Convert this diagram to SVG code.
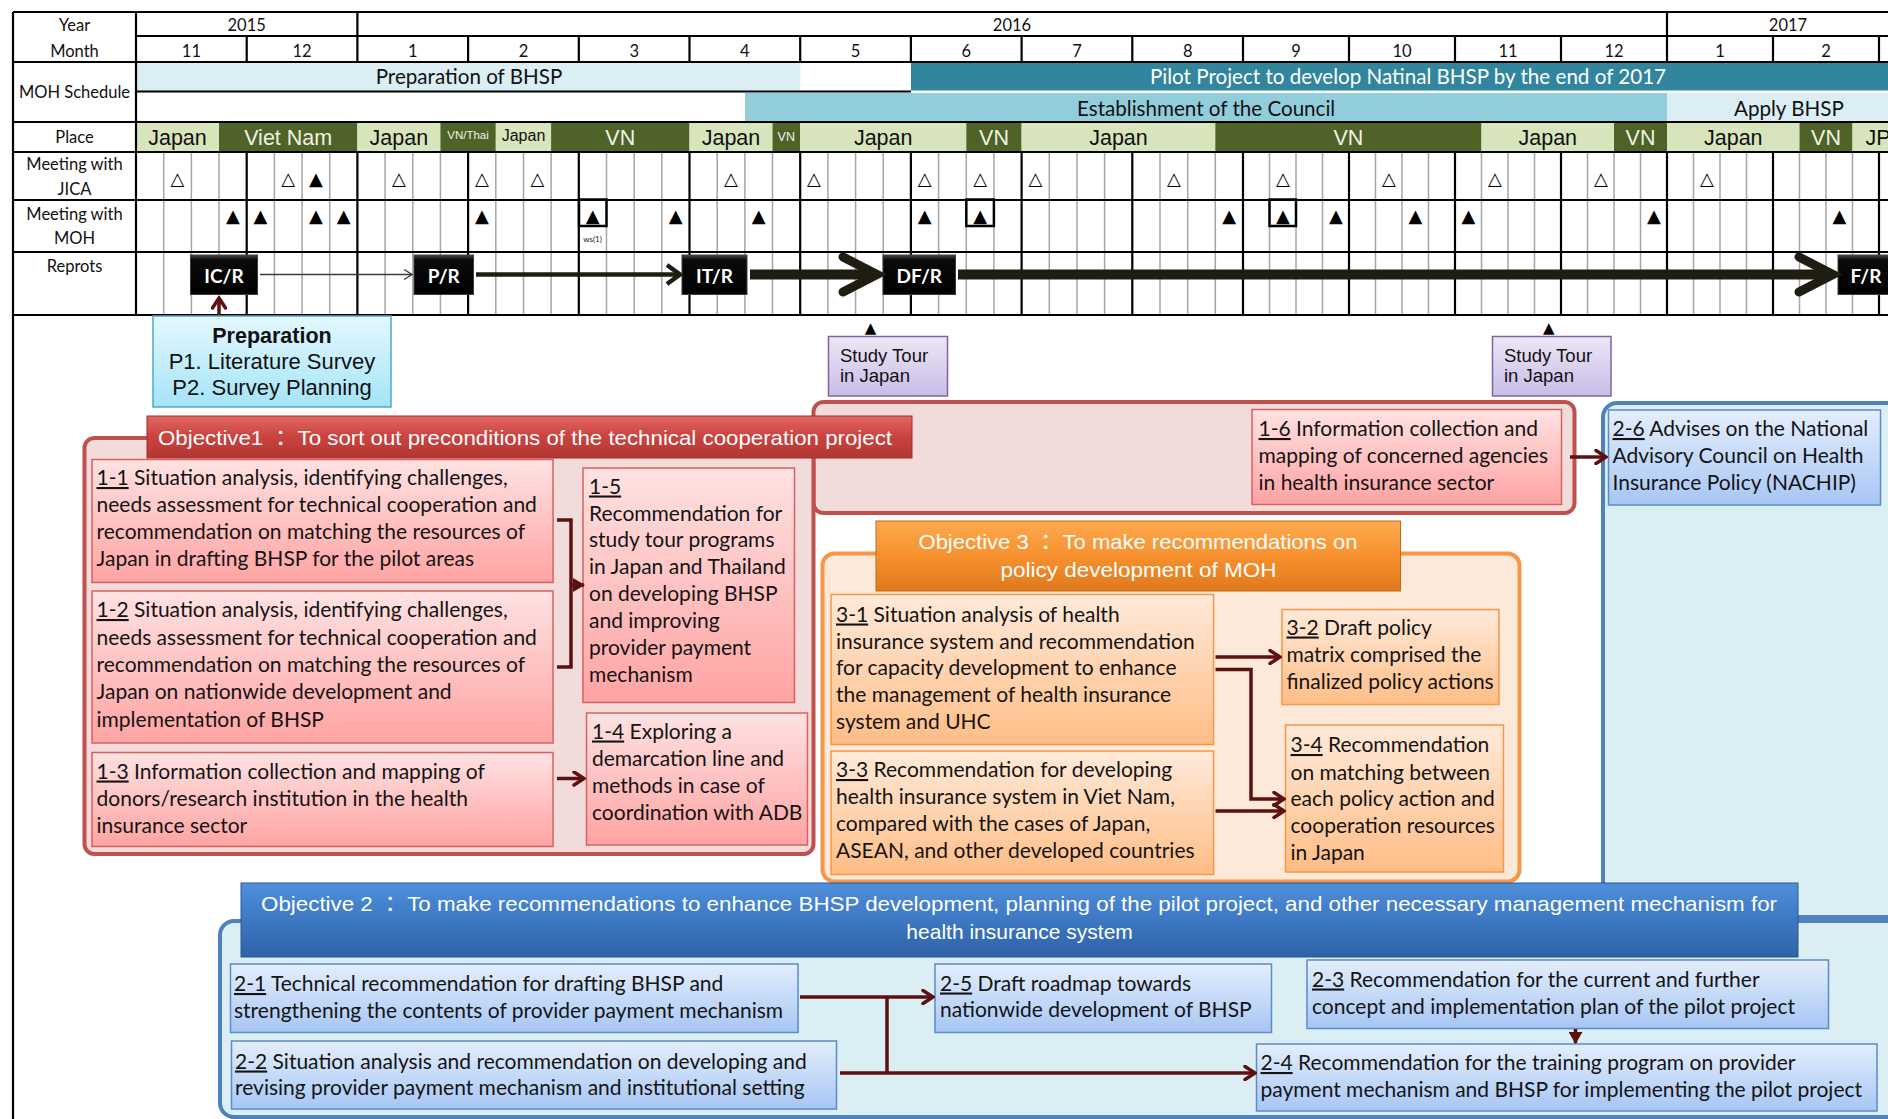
<svg xmlns="http://www.w3.org/2000/svg" width="1888" height="1119" viewBox="0 0 1888 1119">
<defs>
  <linearGradient id="gRed" x1="0" y1="0" x2="0" y2="1"><stop offset="0" stop-color="#FFE2E2"/><stop offset="1" stop-color="#FFA3A3"/></linearGradient>
  <linearGradient id="gOrg" x1="0" y1="0" x2="0" y2="1"><stop offset="0" stop-color="#FFEADA"/><stop offset="1" stop-color="#FFBD86"/></linearGradient>
  <linearGradient id="gBlu" x1="0" y1="0" x2="0" y2="1"><stop offset="0" stop-color="#E4EEFC"/><stop offset="1" stop-color="#A7C6F4"/></linearGradient>
  <linearGradient id="gPrep" x1="0" y1="0" x2="0" y2="1"><stop offset="0" stop-color="#E4F8FE"/><stop offset="1" stop-color="#A4E4F8"/></linearGradient>
  <linearGradient id="gStudy" x1="0" y1="0" x2="0" y2="1"><stop offset="0" stop-color="#ECE7F6"/><stop offset="1" stop-color="#C9BCE6"/></linearGradient>
  <linearGradient id="gHR" x1="0" y1="0" x2="0" y2="1"><stop offset="0" stop-color="#E26763"/><stop offset="0.45" stop-color="#CC4542"/><stop offset="1" stop-color="#B23532"/></linearGradient>
  <linearGradient id="gHO" x1="0" y1="0" x2="0" y2="1"><stop offset="0" stop-color="#FDAA4E"/><stop offset="0.5" stop-color="#F7912F"/><stop offset="1" stop-color="#E0781C"/></linearGradient>
  <linearGradient id="gHB" x1="0" y1="0" x2="0" y2="1"><stop offset="0" stop-color="#4F8FDA"/><stop offset="0.5" stop-color="#3D78C3"/><stop offset="1" stop-color="#2E62A6"/></linearGradient>
  <linearGradient id="gRep" x1="0" y1="0" x2="0" y2="1"><stop offset="0" stop-color="#4A4A4A"/><stop offset="0.12" stop-color="#0A0A0A"/><stop offset="1" stop-color="#000"/></linearGradient>
  <marker id="chev" viewBox="0 0 14 16" refX="12" refY="8" markerWidth="14" markerHeight="16" markerUnits="userSpaceOnUse" orient="auto">
    <path d="M2,1.5 L12,8 L2,14.5" fill="none" stroke="#5C1010" stroke-width="3.5" stroke-linecap="round"/>
  </marker>
  <marker id="tri" viewBox="0 0 12 14" refX="11" refY="7" markerWidth="12" markerHeight="14" markerUnits="userSpaceOnUse" orient="auto">
    <path d="M0,0 L12,7 L0,14 z" fill="#5C1010"/>
  </marker>
  <marker id="thin" viewBox="0 0 10 12" refX="9" refY="6" markerWidth="10" markerHeight="12" markerUnits="userSpaceOnUse" orient="auto">
    <path d="M1,1 L9,6 L1,11" fill="none" stroke="#3A3A3A" stroke-width="1.3"/>
  </marker>
</defs>
<style>
  .lab{font-family:Lato,sans-serif;font-size:16.5px;fill:#111;text-anchor:middle}
  .num{font-family:Lato,sans-serif;font-size:16.5px;fill:#111;text-anchor:middle}
  .bar{font-family:Lato,sans-serif;font-size:20.6px;fill:#111}
  .pl{font-family:"Liberation Sans",Arial,sans-serif;font-size:21.5px;text-anchor:middle}
  .dk{fill:#111}
  .lt{fill:#EEF3E4}
  .wk{stroke:#A6A6A6;stroke-width:1.5;fill:none}
  .bl{stroke:#000;stroke-width:2.2;fill:none}
  .tri{font-family:"DejaVu Sans",sans-serif;font-size:18px;text-anchor:middle;fill:#000}
  .rep rect{fill:url(#gRep);stroke:#3C3C3C;stroke-width:1}
  .rep text{font-family:Lato,sans-serif;font-weight:bold;font-size:19px;fill:#fff;text-anchor:middle}
  .bt{font-family:Lato,sans-serif;font-size:21px;fill:#141414}
  .u{text-decoration:underline}
  .hd{font-family:"Liberation Sans","Noto Sans CJK JP",sans-serif;font-size:21px;fill:#fff}
  .arial{font-family:"Liberation Sans",Arial,sans-serif;fill:#111}
  .rbox{fill:url(#gRed);stroke:#D9605C;stroke-width:1.5}
  .obox{fill:url(#gOrg);stroke:#F79646;stroke-width:1.5}
  .bbox{fill:url(#gBlu);stroke:#5B8BCB;stroke-width:1.5}
  .ar{fill:none;stroke:#5C1010;stroke-width:3.5}
</style>

<!-- timeline table -->
<g id="timeline-table">
  <!-- MOH schedule bars -->
  <rect x="136" y="63" width="664.2" height="28" fill="#DAEEF3"/>
  <rect x="911" y="63" width="977" height="27.5" fill="#31859C"/>
  <rect x="745" y="93" width="922" height="28" fill="#92CDDC"/>
  <rect x="1667" y="93" width="221" height="28" fill="#DAEEF3"/>
  <text class="bar" x="469" y="84" text-anchor="middle">Preparation of BHSP</text>
  <text class="bar" x="1150" y="84" style="fill:#fff">Pilot Project to develop Natinal BHSP by the end of 2017</text>
  <text class="bar" x="1077" y="116">Establishment of the Council</text>
  <text class="bar" x="1734" y="116">Apply BHSP</text>

  <!-- place bars -->
  <rect x="136" y="123" width="83" height="28.5" fill="#D7E4BC"/>
  <rect x="219" y="123" width="138.4" height="28.5" fill="#4F6228"/>
  <rect x="357.4" y="123" width="83" height="28.5" fill="#D7E4BC"/>
  <rect x="440.4" y="123" width="55.4" height="28.5" fill="#4F6228"/>
  <rect x="495.8" y="123" width="55.3" height="28.5" fill="#D7E4BC"/>
  <rect x="551.1" y="123" width="138.4" height="28.5" fill="#4F6228"/>
  <rect x="689.5" y="123" width="83" height="28.5" fill="#D7E4BC"/>
  <rect x="772.5" y="123" width="27.7" height="28.5" fill="#4F6228"/>
  <rect x="800.2" y="123" width="166.1" height="28.5" fill="#D7E4BC"/>
  <rect x="966.3" y="123" width="55.3" height="28.5" fill="#4F6228"/>
  <rect x="1021.6" y="123" width="193.7" height="28.5" fill="#D7E4BC"/>
  <rect x="1215.3" y="123" width="266.2" height="28.5" fill="#4F6228"/>
  <rect x="1481.5" y="123" width="132.5" height="28.5" fill="#D7E4BC"/>
  <rect x="1614" y="123" width="53" height="28.5" fill="#4F6228"/>
  <rect x="1667" y="123" width="132.5" height="28.5" fill="#D7E4BC"/>
  <rect x="1799.5" y="123" width="53" height="28.5" fill="#4F6228"/>
  <rect x="1852.5" y="123" width="36" height="28.5" fill="#D7E4BC"/>
  <text class="pl dk" x="177.5" y="144.5">Japan</text>
  <text class="pl lt" x="288.2" y="144.5">Viet Nam</text>
  <text class="pl dk" x="398.9" y="144.5">Japan</text>
  <text class="pl lt" x="468" y="138.5" style="font-size:11.5px">VN/Thai</text>
  <text class="pl dk" x="523.5" y="141" style="font-size:16px">Japan</text>
  <text class="pl lt" x="620.3" y="144.5">VN</text>
  <text class="pl dk" x="731" y="144.5">Japan</text>
  <text class="pl lt" x="786.3" y="140.5" style="font-size:12.5px">VN</text>
  <text class="pl dk" x="883.2" y="144.5">Japan</text>
  <text class="pl lt" x="994" y="144.5">VN</text>
  <text class="pl dk" x="1118.5" y="144.5">Japan</text>
  <text class="pl lt" x="1348.4" y="144.5">VN</text>
  <text class="pl dk" x="1547.8" y="144.5">Japan</text>
  <text class="pl lt" x="1640.5" y="144.5">VN</text>
  <text class="pl dk" x="1733.3" y="144.5">Japan</text>
  <text class="pl lt" x="1826" y="144.5">VN</text>
  <text class="pl dk" x="1865.5" y="144.5" style="text-anchor:start">JP</text>

  <!-- week lines -->
  <path class="wk" d="M163.7,152V315M191.4,152V315M219,152V315M274.4,152V315M302.1,152V315M329.7,152V315M385.1,152V315M412.8,152V315M440.4,152V315M495.8,152V315M523.5,152V315M551.1,152V315M606.5,152V315M634.2,152V315M661.8,152V315M717.2,152V315M744.9,152V315M772.5,152V315M827.9,152V315M855.6,152V315M883.2,152V315M938.6,152V315M966.3,152V315M993.9,152V315M1049.3,152V315M1077,152V315M1104.6,152V315M1160,152V315M1187.7,152V315M1215.3,152V315M1269.5,152V315M1296,152V315M1322.5,152V315M1375.5,152V315M1402,152V315M1428.5,152V315M1481.5,152V315M1508,152V315M1534.5,152V315M1587.5,152V315M1614,152V315M1640.5,152V315M1693.5,152V315M1720,152V315M1746.5,152V315M1799.5,152V315M1826,152V315M1852.5,152V315"/>
  <!-- month lines -->
  <path class="bl" d="M246.7,36V62M357.4,12V62M468.1,36V62M578.8,36V62M689.5,36V62M800.2,36V62M910.9,36V62M1021.6,36V62M1132.3,36V62M1243,36V62M1349,36V62M1455,36V62M1561,36V62M1667,12V62M1773,36V62M1879,36V62"/>
  <path class="bl" d="M246.7,152V315M357.4,152V315M468.1,152V315M578.8,152V315M689.5,152V315M800.2,152V315M910.9,152V315M1021.6,152V315M1132.3,152V315M1243,152V315M1349,152V315M1455,152V315M1561,152V315M1667,152V315M1773,152V315M1879,152V315"/>
  <!-- row lines and frame -->
  <path class="bl" d="M13,12H1888M136,36H1888M13,62H1888M136,91.5H911M13,122H1888M13,152H1888M13,200H1888M13,252H1888M13,315H1888M13,12V1119M136,12V315"/>

  <!-- headings -->
  <text class="lab" x="74.5" y="31">Year</text>
  <text class="lab" x="74.5" y="57">Month</text>
  <text class="lab" x="74.5" y="98">MOH Schedule</text>
  <text class="lab" x="74.5" y="143">Place</text>
  <text class="lab" x="74.5" y="170">Meeting with</text>
  <text class="lab" x="74.5" y="195">JICA</text>
  <text class="lab" x="74.5" y="220">Meeting with</text>
  <text class="lab" x="74.5" y="244">MOH</text>
  <text class="lab" x="74.5" y="272">Reprots</text>

  <text class="num" x="246.7" y="31">2015</text>
  <text class="num" x="1012" y="31">2016</text>
  <text class="num" x="1788" y="31">2017</text>
  <text class="num" x="191.4" y="56.5">11</text>
  <text class="num" x="302" y="56.5">12</text>
  <text class="num" x="412.8" y="56.5">1</text>
  <text class="num" x="523.5" y="56.5">2</text>
  <text class="num" x="634.2" y="56.5">3</text>
  <text class="num" x="744.9" y="56.5">4</text>
  <text class="num" x="855.6" y="56.5">5</text>
  <text class="num" x="966.3" y="56.5">6</text>
  <text class="num" x="1077" y="56.5">7</text>
  <text class="num" x="1187.7" y="56.5">8</text>
  <text class="num" x="1296" y="56.5">9</text>
  <text class="num" x="1402" y="56.5">10</text>
  <text class="num" x="1508" y="56.5">11</text>
  <text class="num" x="1614" y="56.5">12</text>
  <text class="num" x="1720" y="56.5">1</text>
  <text class="num" x="1826" y="56.5">2</text>

  <!-- meetings with JICA -->
  <g class="tri">
    <text x="177.5" y="184.5">△</text><text x="288.2" y="184.5">△</text><text x="315.9" y="184.5">▲</text>
    <text x="398.9" y="184.5">△</text><text x="482" y="184.5">△</text><text x="537.3" y="184.5">△</text>
    <text x="731" y="184.5">△</text><text x="814" y="184.5">△</text><text x="924.7" y="184.5">△</text>
    <text x="980.1" y="184.5">△</text><text x="1035.4" y="184.5">△</text><text x="1173.8" y="184.5">△</text>
    <text x="1282.8" y="184.5">△</text><text x="1388.8" y="184.5">△</text><text x="1494.8" y="184.5">△</text>
    <text x="1600.8" y="184.5">△</text><text x="1706.8" y="184.5">△</text>
  </g>
  <!-- meetings with MOH -->
  <g fill="none" stroke="#000" stroke-width="2.5">
    <rect x="579" y="199.5" width="27.5" height="26.5"/>
    <rect x="966.3" y="199.5" width="27.6" height="26.5"/>
    <rect x="1269.5" y="199.5" width="26.5" height="26.5"/>
  </g>
  <g class="tri">
    <text x="232.8" y="221.5">▲</text><text x="260.5" y="221.5">▲</text><text x="315.9" y="221.5">▲</text>
    <text x="343.6" y="221.5">▲</text><text x="482" y="221.5">▲</text><text x="592.6" y="221.5">▲</text>
    <text x="675.7" y="221.5">▲</text><text x="758.7" y="221.5">▲</text><text x="924.7" y="221.5">▲</text>
    <text x="980.1" y="221.5">▲</text><text x="1229.1" y="221.5">▲</text><text x="1282.8" y="221.5">▲</text>
    <text x="1335.8" y="221.5">▲</text><text x="1415.3" y="221.5">▲</text><text x="1468.3" y="221.5">▲</text>
    <text x="1653.8" y="221.5">▲</text><text x="1839.3" y="221.5">▲</text>
  </g>
  <text x="592.6" y="241.5" style="font-family:Lato,sans-serif;font-size:8px;fill:#222;text-anchor:middle">ws(1)</text>
</g>

<!-- objective containers -->
<g id="objective1-area">
  <rect x="813.5" y="402" width="761" height="111" rx="10" fill="#F2DCDB" stroke="#C0504D" stroke-width="4"/>
  <rect x="84.5" y="438" width="729" height="416" rx="10" fill="#F2DCDB" stroke="#C0504D" stroke-width="4"/>
</g>
<g id="objective3-area">
  <rect x="822.5" y="553.5" width="697" height="328" rx="12" fill="#FDE9D9" stroke="#F79646" stroke-width="4"/>
</g>
<g id="objective2-area">
  <rect x="1603" y="403" width="320" height="514" rx="14" fill="#DAEEF3" stroke="#4F81BD" stroke-width="4"/>
  <rect x="220" y="921" width="1700" height="196" rx="14" fill="#DAEEF3" stroke="#4F81BD" stroke-width="4"/>
</g>

<!-- objective headers -->
<g id="objective1-header">
  <rect x="147" y="416" width="765" height="42" fill="url(#gHR)" stroke="#9E2F2C" stroke-width="1"/>
  <text class="hd" x="158" y="445" textLength="734" lengthAdjust="spacingAndGlyphs">Objective1 ： To sort out preconditions of the technical cooperation project</text>
</g>
<g id="objective3-header">
  <rect x="876" y="521" width="524.5" height="70" fill="url(#gHO)" stroke="#C46A19" stroke-width="1"/>
  <text class="hd" x="1138" y="549" text-anchor="middle" textLength="439" lengthAdjust="spacingAndGlyphs">Objective 3 ： To make recommendations on</text>
  <text class="hd" x="1138.5" y="577" text-anchor="middle" textLength="276" lengthAdjust="spacingAndGlyphs">policy development of MOH</text>
</g>
<g id="objective2-header">
  <rect x="241" y="883" width="1557" height="74" fill="url(#gHB)" stroke="#2A5894" stroke-width="1"/>
  <text class="hd" x="261" y="910.5" textLength="1516" lengthAdjust="spacingAndGlyphs">Objective 2 ： To make recommendations to enhance BHSP development, planning of the pilot project, and other necessary management mechanism for</text>
  <text class="hd" x="1019.6" y="938.5" text-anchor="middle">health insurance system</text>
</g>

<!-- preparation and study tours -->
<g id="preparation">
  <rect x="153" y="316" width="238" height="91" fill="url(#gPrep)" stroke="#4BACC6" stroke-width="1.5"/>
  <text class="arial" x="272" y="342.5" text-anchor="middle" font-size="21.5" font-weight="bold">Preparation</text>
  <text class="arial" x="272" y="369" text-anchor="middle" font-size="22">P1. Literature Survey</text>
  <text class="arial" x="272" y="394.5" text-anchor="middle" font-size="22">P2. Survey Planning</text>
</g>
<g id="study-tour-1">
  <text class="tri" x="870.6" y="332.5" style="font-size:15px">▲</text>
  <rect x="828.5" y="336.5" width="119" height="59.5" fill="url(#gStudy)" stroke="#8064A2" stroke-width="1.5"/>
  <text class="arial" x="840" y="361.5" font-size="18.5">Study Tour</text>
  <text class="arial" x="840" y="381.5" font-size="18.5">in Japan</text>
</g>
<g id="study-tour-2">
  <text class="tri" x="1548.7" y="332.5" style="font-size:15px">▲</text>
  <rect x="1492.5" y="336.5" width="118.5" height="59.5" fill="url(#gStudy)" stroke="#8064A2" stroke-width="1.5"/>
  <text class="arial" x="1504" y="361.5" font-size="18.5">Study Tour</text>
  <text class="arial" x="1504" y="381.5" font-size="18.5">in Japan</text>
</g>

<!-- reports -->
<g id="report-icr" class="rep"><rect x="190.5" y="255" width="67" height="39.5"/><text x="224" y="283">IC/R</text></g>
<g id="report-pr" class="rep"><rect x="414" y="255" width="59.5" height="39.5"/><text x="443.8" y="283">P/R</text></g>
<g id="report-itr" class="rep"><rect x="682" y="255" width="65" height="39.5"/><text x="714.5" y="283">IT/R</text></g>
<g id="report-dfr" class="rep"><rect x="883" y="255" width="72.5" height="39.5"/><text x="919.3" y="283">DF/R</text></g>
<g id="report-fr" class="rep"><rect x="1838" y="255" width="60" height="39.5"/><text x="1866" y="283">F/R</text></g>

<!-- objective 1 outputs -->
<g id="n1-1">
  <rect class="rbox" x="92" y="459.5" width="461" height="123"/>
  <text class="bt" x="96.5" y="485"><tspan class="u">1-1</tspan> Situation analysis, identifying challenges,</text>
  <text class="bt" x="96.5" y="512">needs assessment for technical cooperation and</text>
  <text class="bt" x="96.5" y="539">recommendation on matching the resources of</text>
  <text class="bt" x="96.5" y="566">Japan in drafting BHSP for the pilot areas</text>
</g>
<g id="n1-2">
  <rect class="rbox" x="92" y="591" width="461" height="152"/>
  <text class="bt" x="96.5" y="617"><tspan class="u">1-2</tspan> Situation analysis, identifying challenges,</text>
  <text class="bt" x="96.5" y="644.5">needs assessment for technical cooperation and</text>
  <text class="bt" x="96.5" y="671.5">recommendation on matching the resources of</text>
  <text class="bt" x="96.5" y="699">Japan on nationwide development and</text>
  <text class="bt" x="96.5" y="726.5">implementation of BHSP</text>
</g>
<g id="n1-3">
  <rect class="rbox" x="92" y="752.5" width="461" height="94"/>
  <text class="bt" x="96.5" y="778.5"><tspan class="u">1-3</tspan> Information collection and mapping of</text>
  <text class="bt" x="96.5" y="805.5">donors/research institution in the health</text>
  <text class="bt" x="96.5" y="832.5">insurance sector</text>
</g>
<g id="n1-5">
  <rect class="rbox" x="583" y="468" width="211.5" height="234.5"/>
  <text class="bt" x="589" y="493.5"><tspan class="u">1-5</tspan></text>
  <text class="bt" x="589" y="520.5">Recommendation for</text>
  <text class="bt" x="589" y="547">study tour programs</text>
  <text class="bt" x="589" y="574">in Japan and Thailand</text>
  <text class="bt" x="589" y="601">on developing BHSP</text>
  <text class="bt" x="589" y="628">and improving</text>
  <text class="bt" x="589" y="655">provider payment</text>
  <text class="bt" x="589" y="682">mechanism</text>
</g>
<g id="n1-4">
  <rect class="rbox" x="586.5" y="713" width="221" height="132"/>
  <text class="bt" x="592" y="738.5"><tspan class="u">1-4</tspan> Exploring a</text>
  <text class="bt" x="592" y="766">demarcation line and</text>
  <text class="bt" x="592" y="793">methods in case of</text>
  <text class="bt" x="592" y="820">coordination with ADB</text>
</g>
<g id="n1-6">
  <rect class="rbox" x="1252" y="409.5" width="309.5" height="95"/>
  <text class="bt" x="1258.5" y="436"><tspan class="u">1-6</tspan> Information collection and</text>
  <text class="bt" x="1258.5" y="462.5">mapping of concerned agencies</text>
  <text class="bt" x="1258.5" y="489.5">in health insurance sector</text>
</g>

<!-- objective 3 outputs -->
<g id="n3-1">
  <rect class="obox" x="831" y="594.5" width="382.5" height="150"/>
  <text class="bt" x="836" y="621.5"><tspan class="u">3-1</tspan> Situation analysis of health</text>
  <text class="bt" x="836" y="648.5">insurance system and recommendation</text>
  <text class="bt" x="836" y="675">for capacity development to enhance</text>
  <text class="bt" x="836" y="702">the management of health insurance</text>
  <text class="bt" x="836" y="729">system and UHC</text>
</g>
<g id="n3-3">
  <rect class="obox" x="831" y="751" width="382.5" height="123.5"/>
  <text class="bt" x="836" y="777"><tspan class="u">3-3</tspan> Recommendation for developing</text>
  <text class="bt" x="836" y="803.5">health insurance system in Viet Nam,</text>
  <text class="bt" x="836" y="830.5">compared with the cases of Japan,</text>
  <text class="bt" x="836" y="857.5">ASEAN, and other developed countries</text>
</g>
<g id="n3-2">
  <rect class="obox" x="1282" y="609.5" width="217" height="95"/>
  <text class="bt" x="1286.5" y="634.5"><tspan class="u">3-2</tspan> Draft policy</text>
  <text class="bt" x="1286.5" y="662">matrix comprised the</text>
  <text class="bt" x="1286.5" y="688.5">finalized policy actions</text>
</g>
<g id="n3-4">
  <rect class="obox" x="1285.5" y="725" width="218" height="147"/>
  <text class="bt" x="1290.5" y="752"><tspan class="u">3-4</tspan> Recommendation</text>
  <text class="bt" x="1290.5" y="779.5">on matching between</text>
  <text class="bt" x="1290.5" y="805.5">each policy action and</text>
  <text class="bt" x="1290.5" y="833">cooperation resources</text>
  <text class="bt" x="1290.5" y="860">in Japan</text>
</g>

<!-- objective 2 outputs -->
<g id="n2-6">
  <rect class="bbox" x="1608.5" y="410" width="272" height="95"/>
  <text class="bt" x="1612.5" y="436"><tspan class="u">2-6</tspan> Advises on the National</text>
  <text class="bt" x="1612.5" y="463">Advisory Council on Health</text>
  <text class="bt" x="1612.5" y="490">Insurance Policy (NACHIP)</text>
</g>
<g id="n2-1">
  <rect class="bbox" x="230.5" y="964" width="567.5" height="68.5"/>
  <text class="bt" x="234" y="991"><tspan class="u">2-1</tspan> Technical recommendation for drafting BHSP and</text>
  <text class="bt" x="234" y="1018">strengthening the contents of provider payment mechanism</text>
</g>
<g id="n2-2">
  <rect class="bbox" x="231.5" y="1041" width="605" height="68"/>
  <text class="bt" x="235" y="1068.5"><tspan class="u">2-2</tspan> Situation analysis and recommendation on developing and</text>
  <text class="bt" x="235" y="1095">revising provider payment mechanism and institutional setting</text>
</g>
<g id="n2-5">
  <rect class="bbox" x="935" y="964" width="336.5" height="68.5"/>
  <text class="bt" x="940" y="990.5"><tspan class="u">2-5</tspan> Draft roadmap towards</text>
  <text class="bt" x="940" y="1017">nationwide development of BHSP</text>
</g>
<g id="n2-3">
  <rect class="bbox" x="1307" y="960" width="521.5" height="68.5"/>
  <text class="bt" x="1312" y="986.5"><tspan class="u">2-3</tspan> Recommendation for the current and further</text>
  <text class="bt" x="1312" y="1013.5">concept and implementation plan of the pilot project</text>
</g>
<g id="n2-4">
  <rect class="bbox" x="1256.5" y="1044" width="620.5" height="67"/>
  <text class="bt" x="1260.5" y="1070"><tspan class="u">2-4</tspan> Recommendation for the training program on provider</text>
  <text class="bt" x="1260.5" y="1096.5">payment mechanism and BHSP for implementing the pilot project</text>
</g>

<!-- connectors -->
<g id="connectors">
  <path class="ar" d="M219,315V298" marker-end="url(#chev)"/>
  <path d="M260,274.5H412" fill="none" stroke="#3A3A3A" stroke-width="1.3" marker-end="url(#thin)"/>
  <path d="M476,274.5H678" fill="none" stroke="#1F1D12" stroke-width="4.5"/>
  <path d="M667,265L680,274.5L667,284" fill="none" stroke="#1F1D12" stroke-width="4.5"/>
  <path d="M750,274.5H872" fill="none" stroke="#1F1D12" stroke-width="10"/>
  <path d="M843,257L877,274.5L843,292" fill="none" stroke="#1F1D12" stroke-width="9" stroke-linecap="round"/>
  <path d="M958,274.5H1828" fill="none" stroke="#1F1D12" stroke-width="10"/>
  <path d="M1799,257L1833,274.5L1799,292" fill="none" stroke="#1F1D12" stroke-width="9" stroke-linecap="round"/>
  <path class="ar" d="M557,520H571V667H557"/>
  <path class="ar" d="M571,585H584" marker-end="url(#tri)"/>
  <path class="ar" d="M557,778.5H584" marker-end="url(#chev)"/>
  <path class="ar" d="M1570,457H1606" marker-end="url(#chev)"/>
  <path class="ar" d="M1215.5,657H1280" marker-end="url(#chev)"/>
  <path class="ar" d="M1215.5,669.5H1251V799H1284" marker-end="url(#chev)"/>
  <path class="ar" d="M1215.5,811H1284" marker-end="url(#chev)"/>
  <path class="ar" d="M800,997H933" marker-end="url(#chev)"/>
  <path class="ar" d="M840,1073H1255" marker-end="url(#chev)"/>
  <path class="ar" d="M887,997V1073"/>
  <path class="ar" d="M1575.5,1029V1043" marker-end="url(#tri)"/>
</g>
</svg>
